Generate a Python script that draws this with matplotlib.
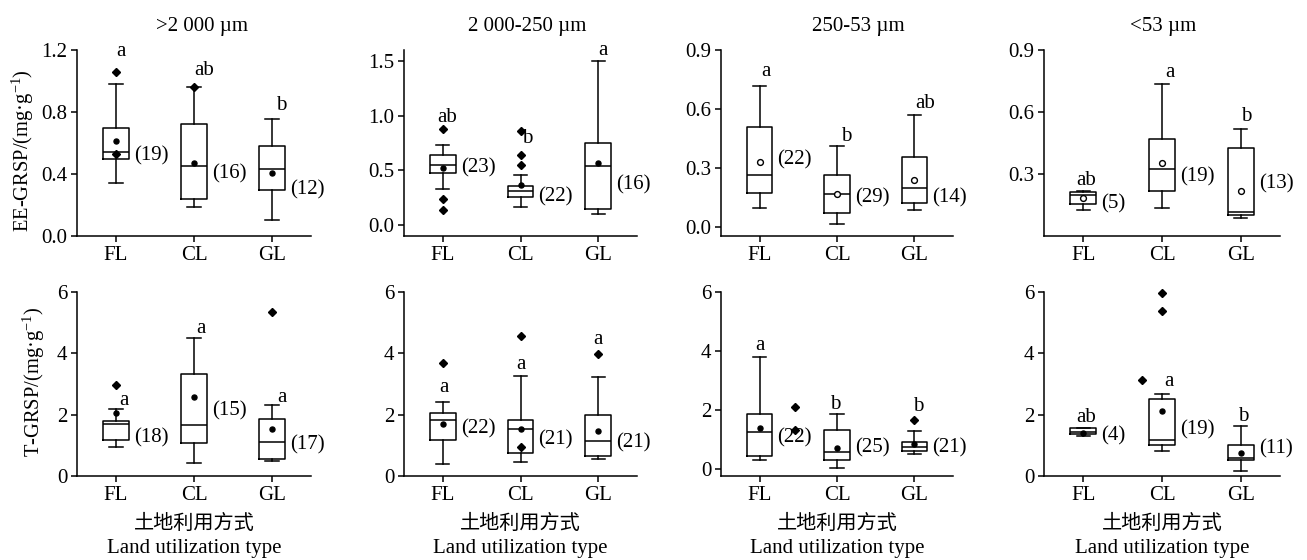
import matplotlib
matplotlib.use('Agg')
import matplotlib.pyplot as plt
import numpy as np

plt.rcParams['font.family'] = ['Liberation Serif', 'Noto Sans CJK SC', 'DejaVu Sans']
plt.rcParams['mathtext.fontset'] = 'custom'
plt.rcParams['mathtext.rm'] = 'Liberation Serif'
plt.rcParams['mathtext.it'] = 'Liberation Serif:italic'

categories = ['FL', 'CL', 'GL']
titles = ['>2 000 µm', '2 000-250 µm', '250-53 µm', '<53 µm']
ylabels = ['EE-GRSP/(mg·g$^{-1}$)', 'T-GRSP/(mg·g$^{-1}$)']
xlabel_cn = '土地利用方式'
xlabel_en = 'Land utilization type'

# ---- EE-GRSP (top row), each entry: [FL, CL, GL] ----
ee_whislo = [[0.344, 0.189, 0.103], [0.333, 0.168, 0.098], [0.098, 0.014, 0.086], [0.127, 0.137, 0.088]]
ee_q1     = [[0.497, 0.237, 0.299], [0.477, 0.257, 0.150], [0.171, 0.070, 0.120], [0.153, 0.220, 0.103]]
ee_med    = [[0.544, 0.452, 0.430], [0.548, 0.315, 0.541], [0.263, 0.166, 0.200], [0.196, 0.323, 0.114]]
ee_q3     = [[0.700, 0.720, 0.580], [0.640, 0.360, 0.749], [0.507, 0.263, 0.354], [0.215, 0.470, 0.424]]
ee_whishi = [[0.980, 0.959, 0.757], [0.728, 0.461, 1.495], [0.717, 0.412, 0.569], [0.220, 0.734, 0.519]]
ee_mean   = [[0.613, 0.473, 0.408], [0.526, 0.364, 0.566], [0.330, 0.168, 0.239], [0.184, 0.352, 0.220]]
ee_fliers = [[[1.06, 0.53], [0.96], []],
             [[0.88, 0.24, 0.135], [0.856, 0.642, 0.548], []],
             [[], [], []],
             [[], [], []]]
ee_n      = [[19, 16, 12], [23, 22, 16], [22, 29, 14], [5, 19, 13]]
ee_letters = [['a', 'ab', 'b'], ['ab', 'b', 'a'], ['a', 'b', 'ab'], ['ab', 'a', 'b']]

# ---- T-GRSP (bottom row) ----
t_whislo = [[0.94, 0.41, 0.50], [0.39, 0.45, 0.56], [0.30, 0.02, 0.52], [1.31, 0.80, 0.16]]
t_q1     = [[1.18, 1.07, 0.56], [1.18, 0.76, 0.64], [0.43, 0.31, 0.60], [1.37, 1.01, 0.52]]
t_med    = [[1.685, 1.66, 1.10], [1.81, 1.54, 1.13], [1.24, 0.57, 0.74], [1.44, 1.17, 0.58]]
t_q3     = [[1.79, 3.31, 1.87], [2.07, 1.84, 1.99], [1.87, 1.32, 0.92], [1.55, 2.51, 1.00]]
t_whishi = [[2.17, 4.49, 2.31], [2.40, 3.27, 3.22], [3.79, 1.87, 1.30], [1.57, 2.67, 1.64]]
t_mean   = [[2.07, 2.58, 1.52], [1.70, 1.52, 1.48], [1.38, 0.71, 0.85], [1.41, 2.11, 0.76]]
t_fliers = [[[2.98], [], [5.36]],
            [[3.67], [4.57, 0.93], [3.99]],
            [[2.09, 1.33], [], [1.67]],
            [[], [5.96, 5.37, 3.12], []]]
t_n      = [[18, 15, 17], [22, 21, 21], [22, 25, 21], [4, 19, 11]]
t_letters = [['a', 'a', 'a'], ['a', 'a', 'a'], ['a', 'b', 'b'], ['ab', 'a', 'b']]

# ---- annotation placement (layout, not data) ----
ee_letter_y = [[1.19, 1.07, 0.845], [0.98, 0.79, 1.60], [0.79, 0.46, 0.63], [0.27, 0.79, 0.576]]
ee_letter_dx = [[0.06, 0.13, 0.12], [0.05, 0.08, 0.06], [0.08, 0.12, 0.14], [0.04, 0.10, 0.07]]
ee_n_y = [[0.52, 0.40, 0.297], [0.52, 0.254, 0.367], [0.34, 0.146, 0.146], [0.155, 0.287, 0.25]]
t_letter_y = [[2.47, 4.8, 2.55], [2.9, 3.64, 4.46], [4.2, 2.19, 2.13], [1.9, 3.09, 1.93]]
t_letter_dx = [[0.10, 0.09, 0.13], [0.02, 0.01, 0.0], [0.0, -0.02, 0.05], [0.03, 0.09, 0.03]]
t_n_y = [[1.25, 2.12, 1.0], [1.54, 1.19, 1.07], [1.05, 0.71, 0.71], [1.30, 1.5, 0.9]]
# flier horizontal shifts: (row, panel, category, index) -> dx
flier_dx = {(1, 2, 0, 0): 0.46, (1, 2, 0, 1): 0.46, (1, 3, 1, 2): -0.26}

ee_ylim = [(0, 1.2), (-0.1, 1.6), (-0.046, 0.9), (0, 0.9)]
ee_yticks = [[0.0, 0.4, 0.8, 1.2], [0.0, 0.5, 1.0, 1.5], [0.0, 0.3, 0.6, 0.9], [0.3, 0.6, 0.9]]
t_ylim = [(0, 6), (0, 6), (-0.24, 6), (0, 6)]
t_yticks = [[0, 2, 4, 6]] * 4

W, H = 1307, 560
fig = plt.figure(figsize=(W / 100, H / 100), dpi=100)

col_left = [77, 404, 721, 1044]
col_w = [234, 233, 232, 236]
rows_px = [(50, 236), (292, 476)]
title_x = [202, 527, 858, 1163]
ylabel_px = [(23, 151), (34, 382)]

FS = 15
LW = 1.1

def px_rect(l, t, w, b):
    return [l / W, 1 - b / H, w / W, (b - t) / H]

for r in range(2):
    if r == 0:
        S = (ee_whislo, ee_q1, ee_med, ee_q3, ee_whishi, ee_mean, ee_fliers, ee_n, ee_letters)
        ly, ldx, ny, ylims, yticks = ee_letter_y, ee_letter_dx, ee_n_y, ee_ylim, ee_yticks
    else:
        S = (t_whislo, t_q1, t_med, t_q3, t_whishi, t_mean, t_fliers, t_n, t_letters)
        ly, ldx, ny, ylims, yticks = t_letter_y, t_letter_dx, t_n_y, t_ylim, t_yticks
    wl, q1, med, q3, wh, mn, fl, nn, lets = S
    for c in range(4):
        top, bot = rows_px[r]
        ax = fig.add_axes(px_rect(col_left[c], top, col_w[c], bot))
        stats = []
        for k in range(3):
            stats.append(dict(whislo=wl[c][k], q1=q1[c][k], med=med[c][k], q3=q3[c][k],
                              whishi=wh[c][k], mean=mn[c][k], fliers=[], label=categories[k]))
        ring = (r == 0 and c >= 2)
        ax.bxp(stats, positions=[1, 2, 3], widths=0.33, capwidths=0.17,
               showmeans=True, showfliers=False, patch_artist=False,
               boxprops=dict(color='black', linewidth=LW),
               medianprops=dict(color='black', linewidth=LW),
               whiskerprops=dict(color='black', linewidth=LW),
               capprops=dict(color='black', linewidth=LW),
               meanprops=dict(marker='o', markersize=4.2 if ring else 3.6,
                              markerfacecolor='white' if ring else 'black',
                              markeredgecolor='black', markeredgewidth=1.0))
        for k in range(3):
            for i, v in enumerate(fl[c][k]):
                dx = flier_dx.get((r, c, k, i), 0.0)
                ax.plot([k + 1 + dx], [v], marker='D', markersize=4.2, color='black',
                        linestyle='none', clip_on=False)
            ax.text(k + 1 + ldx[c][k], ly[c][k], lets[c][k], ha='center', va='center',
                    fontsize=FS)
            ax.text(k + 1.23, ny[c][k], f'({nn[c][k]})', ha='left', va='center', fontsize=FS)
        ax.set_xlim(0.5, 3.5)
        ax.set_ylim(*ylims[c])
        ax.set_yticks(yticks[c])
        if r == 0:
            ax.set_yticklabels([f'{t:.1f}' for t in yticks[c]])
        else:
            ax.set_yticklabels([f'{t:d}' for t in yticks[c]])
        ax.set_xticks([1, 2, 3])
        ax.set_xticklabels(categories)
        for s in ['top', 'right']:
            ax.spines[s].set_visible(False)
        for s in ['left', 'bottom']:
            ax.spines[s].set_linewidth(LW)
        ax.tick_params(direction='out', length=4, width=LW, labelsize=FS, pad=3)
        if c == 0:
            fig.text(ylabel_px[r][0] / W, 1 - ylabel_px[r][1] / H, ylabels[r], rotation=90,
                     ha='center', va='center', fontsize=14.8)
        if r == 0:
            fig.text(title_x[c] / W, 1 - 26 / H, titles[c], ha='center', va='center', fontsize=FS)
        else:
            cx = (col_left[c] + col_w[c] / 2) / W
            fig.text(cx, 1 - 523 / H, xlabel_cn, ha='center', va='center', fontsize=FS - 0.5,
                     family=['Noto Sans CJK SC'], fontweight='light')
            fig.text(cx, 1 - 548 / H, xlabel_en, ha='center', va='center', fontsize=FS)

fig.savefig('out.png', dpi=100)
